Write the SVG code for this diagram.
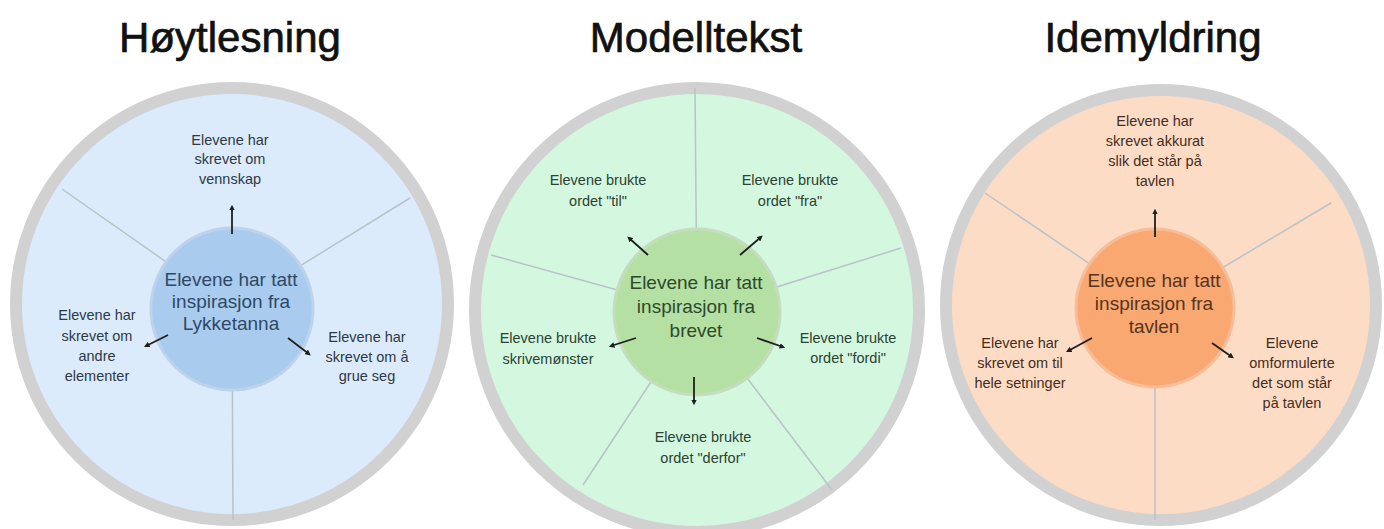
<svg xmlns="http://www.w3.org/2000/svg" width="1384" height="529" viewBox="0 0 1384 529">
<defs>
<marker id="ah" viewBox="0 0 10 10" refX="6" refY="5" markerWidth="3.2" markerHeight="3.2" orient="auto" markerUnits="strokeWidth"><path d="M0,0 L10,5 L0,10 z" fill="#1e1e1e"/></marker>
<style>
.title{font-family:"Liberation Sans",Arial,sans-serif;font-size:42px;fill:#111;stroke:#111;stroke-width:0.7;text-anchor:middle}
.ring{stroke:#d2d1d2;stroke-width:12}
.div{stroke:#b9c2c9;stroke-width:1.5;fill:none}
.t{font-family:"Liberation Sans",Arial,sans-serif;font-size:14.5px;text-anchor:middle}
.c{font-family:"Liberation Sans",Arial,sans-serif;font-size:19px;text-anchor:middle}
.arr{stroke:#1e1e1e;stroke-width:1.8;fill:none;marker-end:url(#ah)}
.b{fill:#2f3945}.g{fill:#2d4233}.o{fill:#452d1e}
</style>
</defs>
<rect width="1384" height="529" fill="#ffffff"/>

<g id="titles">
<text class="title" x="230" y="52">Høytlesning</text>
<text class="title" x="696" y="52">Modelltekst</text>
<text class="title" x="1153" y="52">Idemyldring</text>
</g>

<g id="wheel-hoytlesning">
<circle class="ring" cx="232" cy="304" r="216" fill="#dbebfc"/>
<line class="div" x1="232" y1="308" x2="62" y2="189"/>
<line class="div" x1="232" y1="308" x2="410" y2="198"/>
<line class="div" x1="232" y1="308" x2="233" y2="520"/>
<circle cx="232" cy="309" r="81" fill="#a9cbee" stroke="#bcd3ea" stroke-width="3"/>
<text class="c" fill="#2f4966"><tspan x="231" y="286">Elevene har tatt</tspan><tspan x="231" y="308">inspirasjon fra</tspan><tspan x="231" y="330">Lykketanna</tspan></text>
<text class="t b"><tspan x="230" y="145">Elevene har</tspan><tspan x="230" y="164">skrevet om</tspan><tspan x="230" y="184">vennskap</tspan></text>
<text class="t b"><tspan x="97" y="320">Elevene har</tspan><tspan x="97" y="341">skrevet om</tspan><tspan x="97" y="361">andre</tspan><tspan x="97" y="381">elementer</tspan></text>
<text class="t b"><tspan x="367" y="342">Elevene har</tspan><tspan x="367" y="362">skrevet om å</tspan><tspan x="367" y="381">grue seg</tspan></text>
</g>

<g id="wheel-modelltekst">
<circle class="ring" cx="697" cy="310" r="222" fill="#d3f8df"/>
<line class="div" x1="697" y1="312" x2="695" y2="88"/>
<line class="div" x1="697" y1="312" x2="491" y2="255"/>
<line class="div" x1="697" y1="312" x2="901" y2="248"/>
<line class="div" x1="697" y1="312" x2="583" y2="485"/>
<line class="div" x1="697" y1="312" x2="832" y2="490"/>
<circle cx="697" cy="312" r="83" fill="#b5e0a4" stroke="#c6dcbf" stroke-width="3"/>
<text class="c" fill="#2c4a2b"><tspan x="696" y="289">Elevene har tatt</tspan><tspan x="696" y="313">inspirasjon fra</tspan><tspan x="696" y="337">brevet</tspan></text>
<text class="t g"><tspan x="598" y="185">Elevene brukte</tspan><tspan x="598" y="206">ordet "til"</tspan></text>
<text class="t g"><tspan x="790" y="185">Elevene brukte</tspan><tspan x="790" y="206">ordet "fra"</tspan></text>
<text class="t g"><tspan x="548" y="343">Elevene brukte</tspan><tspan x="548" y="364">skrivemønster</tspan></text>
<text class="t g"><tspan x="848" y="343">Elevene brukte</tspan><tspan x="848" y="363">ordet "fordi"</tspan></text>
<text class="t g"><tspan x="703" y="442">Elevene brukte</tspan><tspan x="703" y="463">ordet "derfor"</tspan></text>
</g>

<g id="wheel-idemyldring">
<circle class="ring" cx="1161" cy="305" r="215" fill="#fddcc5"/>
<line class="div" x1="1155" y1="308" x2="985" y2="193"/>
<line class="div" x1="1155" y1="308" x2="1331" y2="203"/>
<line class="div" x1="1155" y1="308" x2="1155" y2="520"/>
<circle cx="1155" cy="308" r="79" fill="#f9a872" stroke="#f6bd98" stroke-width="3"/>
<text class="c" fill="#55341c"><tspan x="1154" y="287">Elevene har tatt</tspan><tspan x="1154" y="310">inspirasjon fra</tspan><tspan x="1154" y="333">tavlen</tspan></text>
<text class="t o"><tspan x="1155" y="126">Elevene har</tspan><tspan x="1155" y="146">skrevet akkurat</tspan><tspan x="1155" y="166">slik det står på</tspan><tspan x="1155" y="186">tavlen</tspan></text>
<text class="t o"><tspan x="1020" y="348">Elevene har</tspan><tspan x="1020" y="368">skrevet om til</tspan><tspan x="1020" y="388">hele setninger</tspan></text>
<text class="t o"><tspan x="1292" y="348">Elevene</tspan><tspan x="1292" y="368">omformulerte</tspan><tspan x="1292" y="388">det som står</tspan><tspan x="1292" y="408">på tavlen</tspan></text>
</g>

<g id="connectors">
<line class="arr" x1="232" y1="234" x2="232" y2="207"/>
<line class="arr" x1="168" y1="335" x2="146" y2="346"/>
<line class="arr" x1="288" y1="338" x2="309" y2="354"/>
<line class="arr" x1="648" y1="255" x2="629" y2="238"/>
<line class="arr" x1="740" y1="255" x2="761" y2="237"/>
<line class="arr" x1="636" y1="338" x2="611" y2="346"/>
<line class="arr" x1="757" y1="338" x2="783" y2="347"/>
<line class="arr" x1="694" y1="377" x2="694" y2="403"/>
<line class="arr" x1="1155" y1="237" x2="1155" y2="211"/>
<line class="arr" x1="1092" y1="338" x2="1068" y2="351"/>
<line class="arr" x1="1212" y1="343" x2="1232" y2="357"/>
</g>
</svg>
